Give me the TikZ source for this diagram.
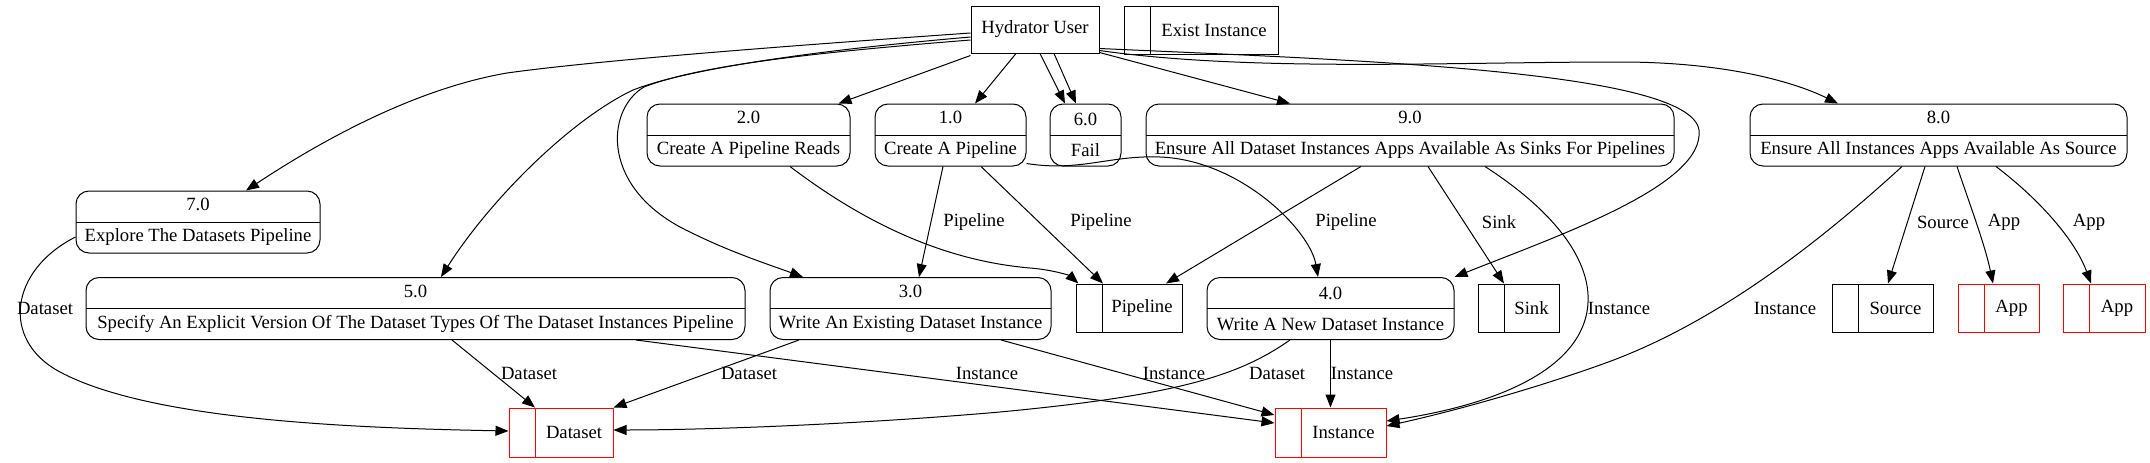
\documentclass[tikz,border=0pt]{standalone}
\usepackage{fontspec}
\setmainfont{Liberation Serif}
\usepackage{tikz}
\usetikzlibrary{arrows.meta}
\tikzstyle{process}=[draw,rounded corners=13pt,minimum height=62pt,inner xsep=4pt,inner ysep=0pt,align=center,font=\fontsize{18.67}{31}\selectfont,
  path picture={\draw (path picture bounding box.west) -- (path picture bounding box.east);}]
\tikzstyle{store}=[draw,minimum height=48pt,inner xsep=4pt,font=\fontsize{18.67}{22}\selectfont,execute at begin node=\hspace*{26pt},
  path picture={\draw ([xshift=26pt]path picture bounding box.north west) -- ([xshift=26pt]path picture bounding box.south west);}]
\tikzstyle{redstore}=[store,draw=red,
  path picture={\draw[red] ([xshift=26pt]path picture bounding box.north west) -- ([xshift=26pt]path picture bounding box.south west);}]
\tikzstyle{entity}=[draw,minimum width=128pt,minimum height=47pt,font=\fontsize{18.67}{22}\selectfont]
\tikzstyle{lbl}=[inner sep=1pt,font=\fontsize{18.67}{22}\selectfont]

\begin{document}
\begin{tikzpicture}[x=1pt,y=-1pt,line width=1pt,
flow/.style={draw,-{Triangle[length=13pt,width=10pt]}}]
\useasboundingbox (0,0) rectangle (2150,463);
% top row
\node [entity] (user) at (1035,29.5) {Hydrator User};
\node [store,minimum width=154pt] (exist) at (1201,30) {Exist Instance};
\node [process,minimum width=203pt] (p2) at (748.5,135) {2.0\\Create A Pipeline Reads};
\node [process,minimum width=151pt] (p1) at (950.5,135) {1.0\\Create A Pipeline};
\node [process,minimum width=71pt] (p6) at (1085.5,135) {6.0\\Fail};
\node [process,minimum width=528pt] (p9) at (1410,135) {9.0\\Ensure All Dataset Instances Apps Available As Sinks For Pipelines};
\node [process,minimum width=377pt] (p8) at (1938.5,135) {8.0\\Ensure All Instances Apps Available As Source};
\node [process,minimum width=244pt] (p7) at (198,222) {7.0\\Explore The Datasets Pipeline};
% middle row
\node [process,minimum width=659pt] (p5) at (415.5,308.5) {5.0\\Specify An Explicit Version Of The Dataset Types Of The Dataset Instances Pipeline};
\node [process,minimum width=281pt] (p3) at (910.5,308.5) {3.0\\Write An Existing Dataset Instance};
\node [process,minimum width=247pt] (p4) at (1330.5,308.5) {4.0\\Write A New Dataset Instance};
\node [store,minimum width=106pt] (pipe) at (1129,308) {Pipeline};
\node [store,minimum width=81pt] (sink) at (1518.5,308) {Sink};
\node [store,minimum width=101pt] (source) at (1882.5,308) {Source};
\node [redstore,minimum width=81pt] (app1) at (1998.5,308) {App};
\node [redstore,minimum width=82pt] (app2) at (2104,308) {App};
% bottom row
\node [redstore,minimum width=104pt,minimum height=49pt] (dataset) at (561,432.5) {Dataset};
\node [redstore,minimum width=111pt,minimum height=49pt] (instance) at (1330.5,432.5) {Instance};

% from the user
\draw [flow] ([yshift=-3.5pt]user.west) .. controls (800,45) and (600,60) .. (507,73)
  .. controls (420,88) and (330,135) .. ([xshift=48pt]p7.north);
\draw [flow] ([yshift=-7.5pt]user.west) .. controls (820,50) and (690,68) .. (633,90)
  .. controls (570,120) and (490,200) .. ([xshift=25.5pt]p5.north);
\draw [flow] ([yshift=-10.5pt]user.west) .. controls (820,52) and (700,65) .. (644,87)
  .. controls (605,110) and (600,190) .. (690,232) .. controls (730,252) and (770,265) .. ([xshift=-107.5pt]p3.north);
\draw [flow] ([yshift=-2pt]user.south west) -- ([xshift=-12pt]p2.north east);
\draw [flow] ([xshift=-19pt]user.south) -- ([xshift=24.5pt]p1.north);
\draw [flow] ([xshift=5pt]user.south) -- ([xshift=-20.5pt]p6.north);
\draw [flow] ([xshift=19pt]user.south) -- ([xshift=-9.5pt]p6.north);
\draw [flow] ([yshift=1pt]user.south east) -- ([xshift=-120pt]p9.north);
\draw [flow] ([yshift=3pt]user.south east) .. controls (1250,72) and (1450,62) .. (1620,62)
  .. controls (1720,62) and (1790,80) .. ([xshift=-100.5pt]p8.north);
\draw [flow] ([yshift=5pt]user.south east) .. controls (1350,60) and (1690,70) .. (1699,130)
  .. controls (1705,185) and (1560,235) .. (p4.north east);

% to the stores
\draw [flow] ([xshift=-7.5pt]p1.south) -- ([xshift=8.5pt]p3.north);
\draw [flow] ([xshift=30.5pt]p1.south) -- ([xshift=-26pt]pipe.north);
\draw [flow] ([xshift=41.5pt]p2.south) .. controls (880,235) and (960,262) .. (1030,268)
  .. controls (1055,270) and (1070,276) .. ([xshift=3pt]pipe.north west);
\draw [flow] ([yshift=3pt]p1.south east) .. controls (1080,172) and (1110,155) .. (1160,157)
  .. controls (1240,160) and (1310,230) .. ([xshift=-12.5pt]p4.north);
\draw [flow] ([xshift=-49pt]p9.south) -- ([xshift=37pt]pipe.north);
\draw [flow] ([xshift=18pt]p9.south) -- ([xshift=-14.5pt]sink.north);
\draw [flow] ([xshift=75pt]p9.south) .. controls (1560,215) and (1600,270) .. (1585,320)
  .. controls (1565,385) and (1460,410) .. ([yshift=11.5pt]instance.east);
\draw [flow] ([xshift=-36.5pt]p8.south) .. controls (1800,260) and (1700,330) .. (1600,365)
  .. controls (1530,390) and (1450,412) .. ([yshift=6.5pt]instance.east);
\draw [flow] ([xshift=-13.5pt]p8.south) -- ([xshift=5.5pt]source.north);
\draw [flow] ([xshift=18.5pt]p8.south) .. controls (1970,205) and (1985,245) .. ([xshift=-5.5pt]app1.north);
\draw [flow] ([xshift=57.5pt]p8.south) .. controls (2040,200) and (2075,240) .. ([xshift=-13pt]app2.north);
\draw [flow] ([yshift=-15pt]p7.west) .. controls (10,270) and (0,340) .. (60,372)
  .. controls (150,420) and (350,428) .. ([yshift=1.5pt]dataset.west);
\draw [flow] ([xshift=36.5pt]p5.south) -- ([xshift=-26pt]dataset.north);
\draw [flow] ([xshift=220.5pt]p5.south) -- ([yshift=9.5pt]instance.west);
\draw [flow] ([xshift=-111.5pt]p3.south) -- (dataset.north east);
\draw [flow] ([xshift=90.5pt]p3.south) -- ([yshift=17.5pt]instance.west);
\draw [flow] ([xshift=-40.5pt]p4.south) .. controls (1240,375) and (1180,395) .. (1000,412)
  .. controls (850,425) and (700,430) .. ([yshift=2.5pt]dataset.east);
\draw [flow] (p4.south) -- (instance.north);

% edge labels
\node [lbl] (lp1) at (974,222) {Pipeline};
\node [lbl] (lp2) at (1101,222) {Pipeline};
\node [lbl] (lp3) at (1346,222) {Pipeline};
\node [lbl] (lsink) at (1499,222) {Sink};
\node [lbl] (lsrc) at (1943,222) {Source};
\node [lbl] (lapp1) at (2004,222) {App};
\node [lbl] (lapp2) at (2089,222) {App};
\node [lbl] (li9) at (1619,308) {Instance};
\node [lbl] (li8) at (1785,308) {Instance};
\node [lbl] (ld7) at (45,308) {Dataset};
\node [lbl] (ld5) at (529,373) {Dataset};
\node [lbl] (ld3) at (749,373) {Dataset};
\node [lbl] (li5) at (987,373) {Instance};
\node [lbl] (li3) at (1174,373) {Instance};
\node [lbl] (ld4) at (1277,373) {Dataset};
\node [lbl] (li4) at (1362,373) {Instance};
\end{tikzpicture}
\end{document}
